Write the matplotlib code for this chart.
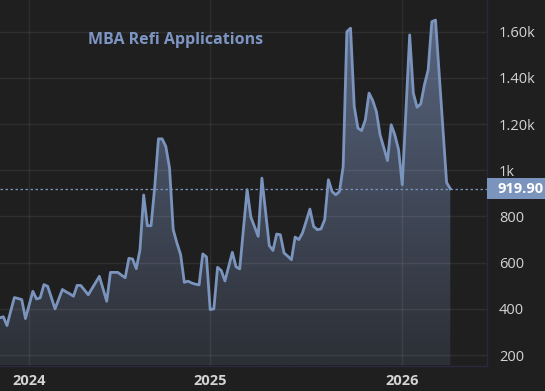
import matplotlib
matplotlib.use("Agg")
import matplotlib.pyplot as plt
import numpy as np
from matplotlib.colors import LinearSegmentedColormap
from matplotlib.patches import Rectangle

# weekly MBA refinance index (last value 919.90)
refi_values = [
    361, 366, 328, 390, 449, 445, 440, 358, 417, 476,
    443, 448, 505, 498, 450, 400, 442, 484, 474, 465,
    455, 502, 501, 481, 461, 488, 514, 541, 487, 433,
    558, 558, 558, 546, 535, 619, 616, 574, 656, 893,
    760, 760, 930, 1136, 1136, 1103, 1010, 743, 685, 635,
    515, 520, 512, 507, 504, 638, 625, 397, 400, 580,
    566, 521, 583, 645, 582, 573, 745, 916, 798, 756,
    714, 966, 820, 674, 653, 724, 721, 642, 628, 613,
    711, 700, 729, 780, 832, 757, 743, 746, 786, 959,
    908, 894, 908, 1016, 1600, 1615, 1276, 1182, 1172, 1218,
    1334, 1302, 1254, 1153, 1098, 1042, 1197, 1153, 1089, 937,
    1260, 1586, 1334, 1273, 1287, 1370, 1434, 1643, 1650, 1416,
    1181, 947, 919.90,
]
year_labels = ["2024", "2025", "2026"]
year_idx = [8, 57, 109]  # first weekly point of each year
y_ticks = [200, 400, 600, 800, 1000, 1200, 1400, 1600]
y_tick_labels = ["200", "400", "600", "800", "1k", "1.20k", "1.40k", "1.60k"]
title = "MBA Refi Applications"

BG = "#1f1f1f"
LINE = "#7b94bd"
TXT = "#d4d4d4"

plt.rcParams["font.family"] = ["Open Sans", "DejaVu Sans"]

x = np.arange(len(refi_values))
y = np.array(refi_values, dtype=float)
last = y[-1]

fig = plt.figure(figsize=(5.45, 3.91), dpi=100, facecolor=BG)
ax = fig.add_axes([0, 25.5 / 391, 486.5 / 545, 365.5 / 391])
ax.set_facecolor(BG)

ymin, ymax = 155, 1737
ax.set_xlim(0.11, 131.8)
ax.set_ylim(ymin, ymax)

# gradient fill under the line
cmap = LinearSegmentedColormap.from_list("fill", ["#2c2f36", "#5a6883"])
grad = np.linspace(0, 1, 256).reshape(-1, 1)
im = ax.imshow(grad, aspect="auto", cmap=cmap, origin="lower",
               extent=[x[0], x[-1], ymin, ymax], zorder=1)
poly = ax.fill_between(x, y, ymin, facecolor="none", edgecolor="none")
im.set_clip_path(poly.get_paths()[0], transform=ax.transData)

ax.plot(x, y, color=LINE, lw=2.0, zorder=3, solid_joinstyle="round")

# last value line
ax.axhline(last, color=LINE, lw=0.9, ls=(0, (2, 2)), zorder=4)

# grid, drawn over the fill
ax.set_yticks(y_ticks)
ax.set_xticks(year_idx)
ax.grid(True, color="white", alpha=0.07, lw=1.0, zorder=2)

ax.yaxis.tick_right()
ax.set_yticklabels(y_tick_labels, color=TXT, fontsize=10.5)
ax.set_xticklabels(year_labels, color=TXT, fontsize=10.5, fontweight="bold")
ax.tick_params(axis="both", length=0)
ax.tick_params(axis="y", pad=9)
ax.tick_params(axis="x", pad=6)

for side in ["left", "top"]:
    ax.spines[side].set_visible(False)
for side in ["right", "bottom"]:
    ax.spines[side].set_color("#2a2740")
    ax.spines[side].set_linewidth(1.0)

ax.text(0.181, 0.89, title, transform=ax.transAxes, color="#7d95c2",
        fontsize=11.5, fontweight="bold", va="center", ha="left")

# last value tag at the right edge
W, H = 545, 391
ty = ax.transData.transform((0, last))[1] / 100 / 3.91
fig.patches.append(Rectangle((486.5 / W, ty - 10.5 / H), 58.5 / W, 21 / H,
                             transform=fig.transFigure, fc=LINE, ec="none"))
fig.text(497 / W, ty, f"{last:.2f}", color="white", fontsize=10.5,
         fontweight="bold", ha="left", va="center")

fig.savefig("out.png", dpi=100, facecolor=BG)
